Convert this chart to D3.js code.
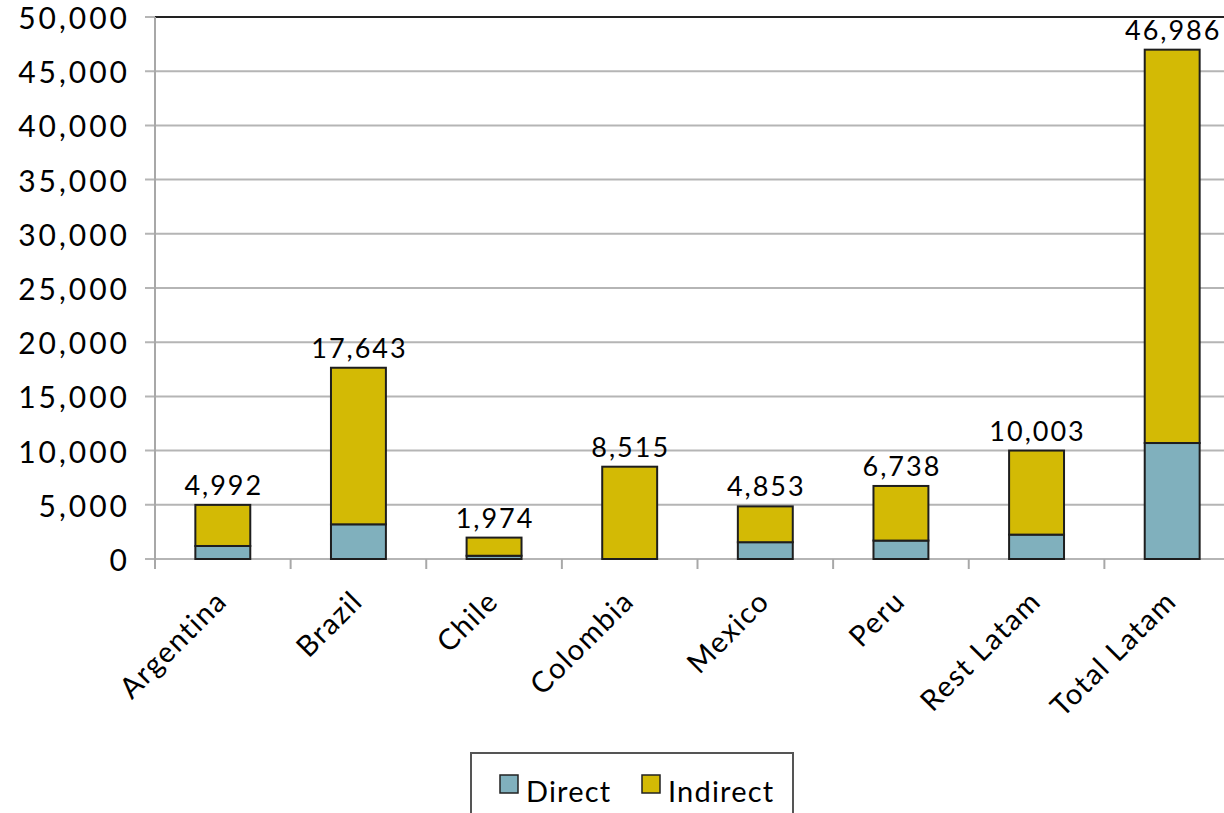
<!DOCTYPE html>
<html>
<head>
<meta charset="utf-8">
<script src="https://cdn.jsdelivr.net/npm/d3@7"></script>
<style>
  html, body { margin: 0; padding: 0; background: #fff; }
  svg { display: block; }
  text { font-family: "Century Gothic", Futura, Lato, "DejaVu Sans", sans-serif; fill: #000; }
</style>
</head>
<body>
<svg id="chart" width="1224" height="813"></svg>
<script>
const categories = ["Argentina", "Brazil", "Chile", "Colombia", "Mexico", "Peru", "Rest Latam", "Total Latam"];
const directValues = [1200, 3200, 300, 0, 1550, 1700, 2250, 10700];
const indirectValues = [3792, 14443, 1674, 8515, 3303, 5038, 7753, 36286];
const totalLabels = ["4,992", "17,643", "1,974", "8,515", "4,853", "6,738", "10,003", "46,986"];
const seriesNames = ["Direct", "Indirect"];
const yTicks = [0, 5000, 10000, 15000, 20000, 25000, 30000, 35000, 40000, 45000, 50000];

(function () {
const colors = { Direct: "#80b0bd", Indirect: "#d3ba05" };

const svg = d3.select("#chart");
const pLeft = 155, pRight = 1240, pTop = 17, pBottom = 559;

const x = d3.scaleBand().domain(categories).range([pLeft, pRight]).paddingInner(0).paddingOuter(0);
const y = d3.scaleLinear().domain([0, 50000]).range([pBottom, pTop]);

const rows = categories.map((c, i) => ({ cat: c, Direct: directValues[i], Indirect: indirectValues[i] }));
const stacked = d3.stack().keys(seriesNames)(rows);

// gridlines
svg.append("g").selectAll("line").data(yTicks).join("line")
  .attr("x1", pLeft - 10).attr("x2", 1224)
  .attr("y1", d => y(d)).attr("y2", d => y(d))
  .attr("stroke", "#b5b5b5")
  .attr("stroke-width", 2);

// top border in black
svg.append("line").attr("x1", pLeft).attr("x2", 1224).attr("y1", y(50000)).attr("y2", y(50000))
  .attr("stroke", "#222").attr("stroke-width", 2);

// y axis line
svg.append("line").attr("x1", pLeft).attr("x2", pLeft).attr("y1", pTop).attr("y2", pBottom + 10)
  .attr("stroke", "#a8a8a8").attr("stroke-width", 2);

// x axis ticks at band boundaries
const boundaries = categories.map(c => x(c)).concat([pRight]);
svg.append("g").selectAll("line").data(boundaries).join("line")
  .attr("x1", d => d).attr("x2", d => d)
  .attr("y1", pBottom).attr("y2", pBottom + 10)
  .attr("stroke", "#a8a8a8").attr("stroke-width", 2);

// y tick labels
svg.append("g").selectAll("text").data(yTicks).join("text")
  .attr("x", 130).attr("y", d => y(d))
  .attr("dy", "0.4em")
  .attr("text-anchor", "end")
  .attr("font-size", 30)
  .attr("letter-spacing", 3)
  .text(d => d3.format(",")(d));

// bars
const barW = x.bandwidth() * 0.405;
svg.append("g").selectAll("g").data(stacked).join("g")
  .attr("fill", d => colors[d.key])
  .selectAll("rect").data(d => d).join("rect")
  .attr("x", d => x(d.data.cat) + (x.bandwidth() - barW) / 2)
  .attr("width", barW)
  .attr("y", d => y(d[1]))
  .attr("height", d => y(d[0]) - y(d[1]))
  .attr("stroke", d => (d[1] - d[0]) > 0 ? "#1e1e1e" : "none")
  .attr("stroke-width", 2);

// total labels
svg.append("g").selectAll("text").data(rows).join("text")
  .attr("x", d => x(d.cat) + x.bandwidth() / 2 + 1)
  .attr("y", (d, i) => y(directValues[i] + indirectValues[i]) - 10)
  .attr("text-anchor", "middle")
  .attr("font-size", 27)
  .attr("letter-spacing", 2)
  .text((d, i) => totalLabels[i]);

// category labels rotated
svg.append("g").selectAll("text").data(categories).join("text")
  .attr("transform", d => `translate(${x(d) + x.bandwidth() / 2 + 6},${pBottom + 44}) rotate(-45)`)
  .attr("text-anchor", "end")
  .attr("font-size", 29)
  .attr("letter-spacing", 1.5)
  .text(d => d);

// legend
const lg = svg.append("g");
lg.append("rect").attr("x", 471).attr("y", 753).attr("width", 322).attr("height", 80)
  .attr("fill", "#fff").attr("stroke", "#555").attr("stroke-width", 2);
const legendX = [500, 642];
seriesNames.forEach((s, i) => {
  lg.append("rect").attr("x", legendX[i]).attr("y", 775).attr("width", 18).attr("height", 18)
    .attr("fill", colors[s]).attr("stroke", "#222").attr("stroke-width", 1.5);
  lg.append("text").attr("x", legendX[i] + 26).attr("y", 802)
    .attr("font-size", 29).attr("letter-spacing", 1.2).text(s);
});
})();
</script>
</body>
</html>
